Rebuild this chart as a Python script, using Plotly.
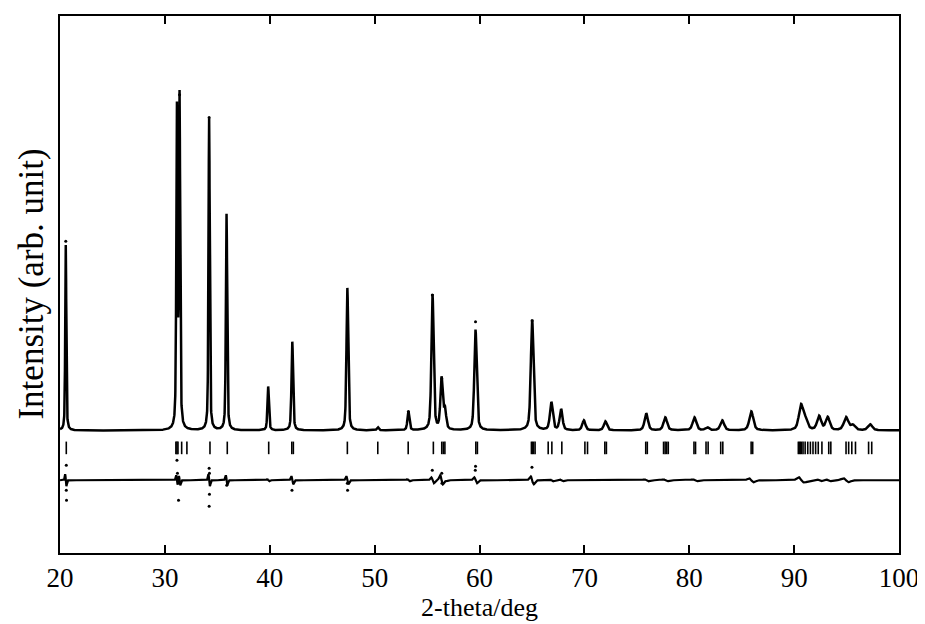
import numpy as np
import plotly.graph_objects as go

# ---------------- data ----------------
# peak positions (2-theta, deg), heights above background and widths (FWHM, deg)
peak_pos = [20.55, 31.15, 31.40, 34.22, 35.88, 39.85, 42.15, 47.40, 50.30, 53.22,
            55.52, 56.38, 56.70, 59.62, 65.02, 66.85, 67.78, 69.95, 72.00, 75.90,
            77.72, 80.50, 81.70, 83.15, 85.92, 90.65, 91.05, 92.38, 93.20, 94.95,
            95.60, 97.25]
peak_height = [186, 318, 330, 313, 217, 44, 89, 143, 3, 19,
               136, 51, 20, 101, 111, 28, 21, 10, 9, 17,
               13, 13, 3, 10, 19, 24, 10, 14, 13, 13,
               5, 6]
peak_fwhm = [0.12, 0.14, 0.14, 0.14, 0.15, 0.17, 0.18, 0.20, 0.22, 0.22,
             0.25, 0.26, 0.28, 0.27, 0.30, 0.32, 0.32, 0.35, 0.35, 0.38,
             0.40, 0.42, 0.42, 0.42, 0.45, 0.48, 0.50, 0.45, 0.45, 0.50,
             0.50, 0.50]
background = 123          # level of the flat baseline of the pattern

# difference curve: base level and misfit amplitude at each peak
diff_base = 73
diff_amp = [6, 5, 5, 6, 5, 1, 4, 4, 0, 1,
            3, 5, 1, 3, 4, 1, 1, 0, 0, 1,
            1, 1, 0, 0, 2, 3, 1, 1, 1, 2,
            0, 0]

# observed points lying off the calculated curve (peak tops)
obs_x = [20.55, 31.40, 34.22, 53.22, 55.50, 59.62, 65.02, 56.40]
obs_y = [313, 460, 437, 142, 259, 232, 233, 175]

# scattered points of the difference pattern
diffdot_x = [20.60, 20.60, 20.62, 31.15, 31.20, 31.30, 34.22, 34.25, 34.25, 34.22,
             35.90, 42.12, 47.40, 47.42, 55.50, 56.40, 56.42, 59.62, 59.60, 65.00]
diffdot_y = [88, 63, 53, 93, 80, 53, 85, 80, 59, 47,
             68, 63, 70, 63, 83, 80, 70, 87, 83, 86]

# Bragg reflection positions
bragg_pos = [20.60, 31.05, 31.15, 31.25, 31.60, 32.10, 34.30, 35.95, 39.90, 42.10,
             42.25, 47.40, 50.30, 53.20, 55.60, 56.40, 56.55, 56.70, 59.65, 59.80,
             64.95, 65.05, 65.15, 65.30, 66.55, 66.90, 67.85, 70.05, 70.30, 71.95,
             72.10, 75.85, 76.00, 77.55, 77.70, 77.85, 78.00, 80.45, 80.60, 81.60,
             81.80, 83.00, 83.20, 85.90, 86.05, 90.40, 90.50, 90.60, 90.70, 90.85,
             91.05, 91.30, 91.55, 91.80, 92.05, 92.30, 92.65, 93.30, 93.50, 94.95,
             95.20, 95.50, 95.85, 97.10, 97.40]
bragg_level = 105.5

x_ticks = [20, 30, 40, 50, 60, 70, 80, 90, 100]

# ---------------- profiles built from the peak list ----------------
x = np.arange(20.0, 100.0001, 0.01)
calc = np.full_like(x, float(background))
diff = np.full_like(x, float(diff_base))
for p, h, w, a in zip(peak_pos, peak_height, peak_fwhm, diff_amp):
    d = (x - p) / w
    lor = 1.0 / (1.0 + 4.0 * d * d)
    gau = np.exp(-4.0 * np.log(2) * d * d)
    calc += h * (0.5 * lor + 0.5 * gau)
    u = 2.0 * d
    diff += -a * u * np.exp(-0.5 * u * u) / 0.6065

fig = go.Figure()
fig.add_trace(go.Scatter(x=x, y=calc, mode="lines",
                         line=dict(color="black", width=2.5), hoverinfo="skip"))
fig.add_trace(go.Scatter(x=obs_x, y=obs_y, mode="markers",
                         marker=dict(color="black", size=3), hoverinfo="skip"))
fig.add_trace(go.Scatter(x=x, y=diff, mode="lines",
                         line=dict(color="black", width=2.2), hoverinfo="skip"))
fig.add_trace(go.Scatter(x=diffdot_x, y=diffdot_y, mode="markers",
                         marker=dict(color="black", size=3), hoverinfo="skip"))
fig.add_trace(go.Scatter(x=bragg_pos, y=[bragg_level] * len(bragg_pos), mode="markers",
                         marker=dict(symbol="line-ns", size=9,
                                     line=dict(color="black", width=1.6)),
                         hoverinfo="skip"))

serif = "Liberation Serif, Times New Roman, serif"
fig.update_layout(
    width=917, height=616,
    margin=dict(l=52, r=25, t=6, b=71),
    paper_bgcolor="white", plot_bgcolor="white",
    showlegend=False,
    font=dict(family=serif, color="black"),
    xaxis=dict(range=[20, 100], tickvals=x_ticks, ticktext=[str(v) for v in x_ticks],
               ticks="inside", ticklen=8, tickwidth=1.5, tickcolor="black",
               showline=True, linecolor="black", linewidth=1.5, mirror="ticks",
               showgrid=False, zeroline=False, ticklabeloverflow="allow",
               tickfont=dict(family=serif, size=27, color="black"),
               title=dict(text="2-theta/deg", standoff=6,
                          font=dict(family=serif, size=26, color="black"))),
    yaxis=dict(range=[0, 539], showticklabels=False, ticks="",
               showline=True, linecolor="black", linewidth=1.5, mirror=True,
               showgrid=False, zeroline=False),
    annotations=[dict(text="Intensity (arb. unit)", xref="paper", yref="paper",
                      x=-29 / 840, y=0.5, xanchor="center", yanchor="middle",
                      textangle=-90, showarrow=False, borderpad=0,
                      font=dict(family=serif, size=35, color="black"))],
)

fig.write_html("out.html")
